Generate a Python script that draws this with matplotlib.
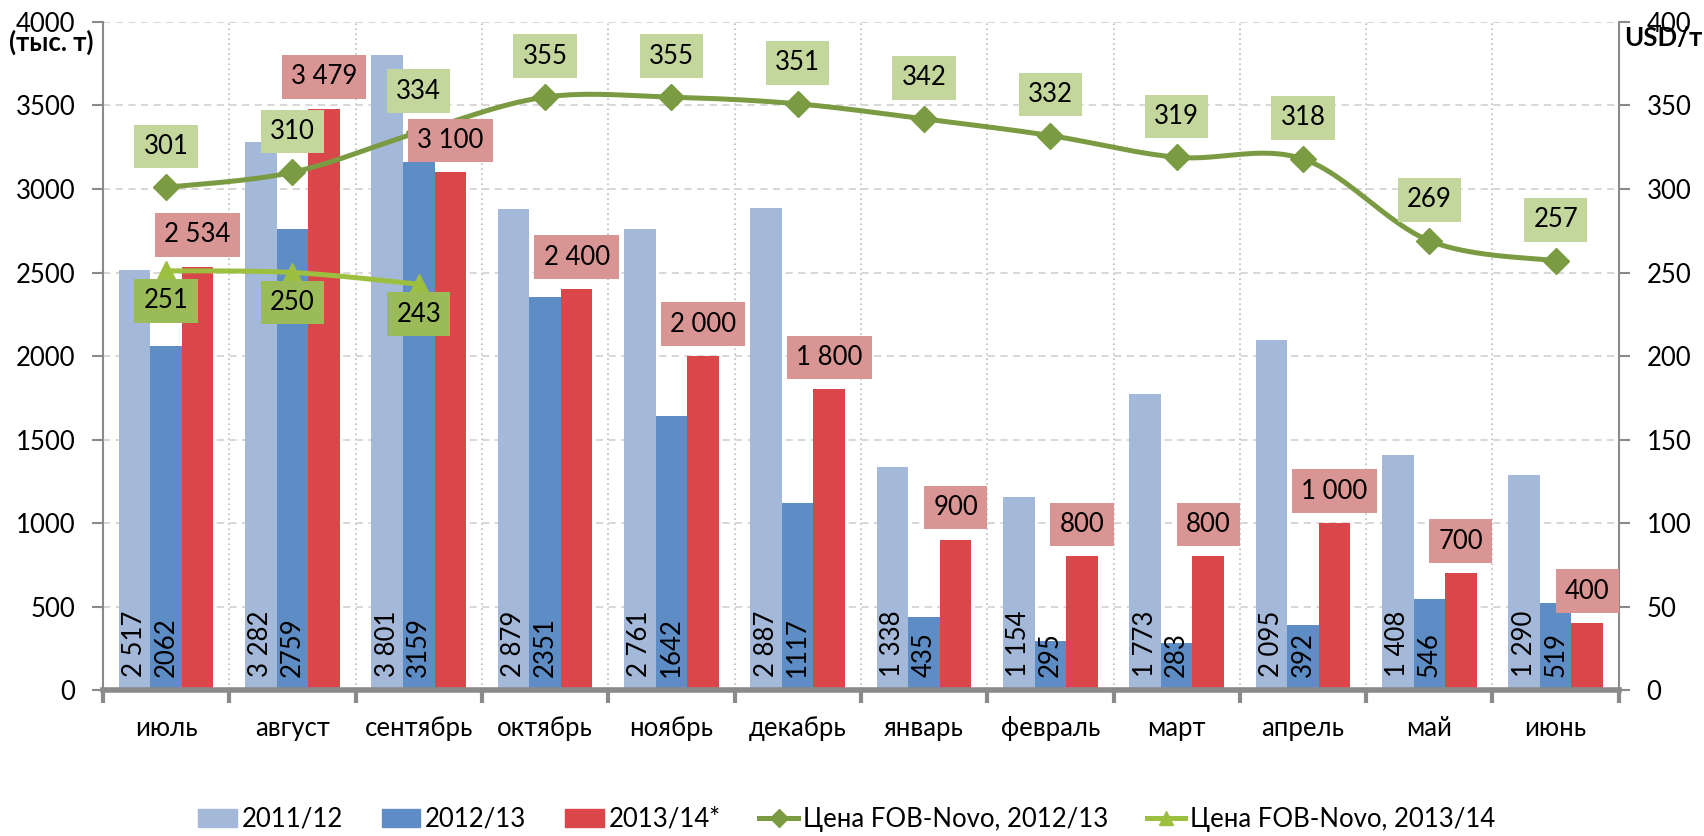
import numpy as np
import matplotlib
matplotlib.use('Agg')
import matplotlib.pyplot as plt
from matplotlib.lines import Line2D
from matplotlib.patches import Patch

plt.rcParams['font.family'] = ['Lato', 'DejaVu Sans']

# ── data ─────────────────────────────────────────────────────────────────────
months = ['июль', 'август', 'сентябрь', 'октябрь', 'ноябрь', 'декабрь',
          'январь', 'февраль', 'март', 'апрель', 'май', 'июнь']
exp_1112 = [2517, 3282, 3801, 2879, 2761, 2887, 1338, 1154, 1773, 2095, 1408, 1290]
exp_1213 = [2062, 2759, 3159, 2351, 1642, 1117, 435, 295, 283, 392, 546, 519]
exp_1314 = [2534, 3479, 3100, 2400, 2000, 1800, 900, 800, 800, 1000, 700, 400]
price_1213 = [301, 310, 334, 355, 355, 351, 342, 332, 319, 318, 269, 257]
price_1314 = [251, 250, 243]

# ── style ────────────────────────────────────────────────────────────────────
C_LIGHT = '#a4b9da'
C_BLUE = '#5e8cc5'
C_RED = '#d9474a'
C_PINK = '#d99594'
C_LINE1 = '#7b9b42'
C_BOX1 = '#c3d69b'
C_LINE2 = '#9dbf3f'
C_BOX2 = '#9bbb59'
AXC = '#8a8a8a'
GRID = '#d4d4d4'
FS = 18.5


def fmt_sp(v):
    return f"{v:,}".replace(",", " ")


def bezier_smooth(xs, ys, steps=40):
    # Excel-style smoothed line, only for drawing the curve between points
    p = np.column_stack([xs, ys]).astype(float)
    ext = np.vstack([p[0], p, p[-1]])
    t = np.linspace(0, 1, steps)[1:, None]
    out = [p[:1]]
    for i in range(len(p) - 1):
        p0, p1, p2, p3 = ext[i], ext[i + 1], ext[i + 2], ext[i + 3]
        c1 = p1 + (p2 - p0) / 6
        c2 = p2 - (p3 - p1) / 6
        out.append((1 - t) ** 3 * p1 + 3 * (1 - t) ** 2 * t * c1
                   + 3 * (1 - t) * t ** 2 * c2 + t ** 3 * p2)
    pts = np.vstack(out)
    return pts[:, 0], pts[:, 1]


fig = plt.figure(figsize=(17.04, 8.36), dpi=100)
ax = fig.add_axes([0.0604, 0.1746, 0.8896, 0.7991])
ax2 = ax.twinx()

x = np.arange(len(months))
w = 0.25

ax.bar(x - w, exp_1112, w, color=C_LIGHT, zorder=2)
ax.bar(x, exp_1213, w, color=C_BLUE, zorder=2)
ax.bar(x + w, exp_1314, w, color=C_RED, zorder=2)

# rotated labels inside bars
for i in x:
    ax.annotate(fmt_sp(exp_1112[i]), (x[i] - w, 0), xytext=(0, 13),
                textcoords='offset pixels', rotation=90, ha='center', va='bottom',
                fontsize=FS, zorder=4)
    ax.annotate(str(exp_1213[i]), (x[i], 0), xytext=(0, 13),
                textcoords='offset pixels', rotation=90, ha='center', va='bottom',
                fontsize=FS, zorder=4)

ax.set_xlim(-0.5, len(months) - 0.5)
ax.set_ylim(0, 4000)
ax.set_yticks(np.arange(0, 4001, 500))
ax.set_xticks(np.arange(-0.5, len(months), 1.0))
ax.set_xticklabels([])
ax.set_xticks(x, minor=True)
ax.set_xticklabels(months, minor=True, fontsize=FS)
ax.tick_params(axis='x', which='major', length=9, width=3, color=AXC)
ax.tick_params(axis='x', which='minor', length=0, pad=19)
ax.tick_params(axis='y', length=8, width=1.5, color=AXC, labelsize=FS, pad=12)
ax.yaxis.grid(True, color=GRID, linestyle=(0, (4, 3)), linewidth=1.3, zorder=0)
ax.xaxis.grid(True, which='major', color='#bdbdbd', linestyle=(0, (1, 2)),
              linewidth=1.2, zorder=0)
ax.set_axisbelow(True)
for s in ['top', 'right']:
    ax.spines[s].set_visible(False)
ax.spines['left'].set_color(AXC)
ax.spines['left'].set_linewidth(1.5)
ax.spines['bottom'].set_color(AXC)
ax.spines['bottom'].set_linewidth(4)

# price lines on right axis
sx, sy = bezier_smooth(x, price_1213)
ax2.plot(sx, sy, color=C_LINE1, linewidth=3.6, solid_capstyle='round', zorder=3)
ax2.plot(x, price_1213, linestyle='none', marker='D', markersize=13,
         color=C_LINE1, zorder=3)
x2 = x[:len(price_1314)]
sx2, sy2 = bezier_smooth(x2, price_1314)
ax2.plot(sx2, sy2, color=C_LINE2, linewidth=3.6, zorder=3)
ax2.plot(x2, price_1314, linestyle='none', marker='^', markersize=14,
         color=C_LINE2, zorder=3)

ax2.set_ylim(0, 400)
ax2.set_yticks(np.arange(0, 401, 50))
ax2.tick_params(axis='y', length=8, width=1.5, color=AXC, labelsize=FS, pad=12)
for s in ['top', 'left', 'bottom']:
    ax2.spines[s].set_visible(False)
ax2.spines['right'].set_color(AXC)
ax2.spines['right'].set_linewidth(1.5)

# boxed labels (drawn on top axes so they cover the lines)
box_pad = 'square,pad=0.36'
for i in x:
    ax2.annotate(fmt_sp(exp_1314[i]), (x[i] + w, exp_1314[i]), xycoords=ax.transData,
                 xytext=(0, 32), textcoords='offset pixels', ha='center', va='center',
                 fontsize=FS, zorder=6,
                 bbox=dict(boxstyle=box_pad, fc=C_PINK, ec='none'))
    ax2.annotate(str(price_1213[i]), (x[i], price_1213[i]),
                 xytext=(0, 41), textcoords='offset pixels', ha='center', va='center',
                 fontsize=FS, zorder=6,
                 bbox=dict(boxstyle=box_pad, fc=C_BOX1, ec='none'))
for i in x2:
    ax2.annotate(str(price_1314[i]), (x2[i], price_1314[i]),
                 xytext=(0, -30), textcoords='offset pixels', ha='center', va='center',
                 fontsize=FS, zorder=6,
                 bbox=dict(boxstyle=box_pad, fc=C_BOX2, ec='none'))

fig.text(0.005, 0.949, '(тыс. т)', fontsize=FS, fontweight='bold', ha='left', va='center')
fig.text(0.999, 0.955, 'USD/т', fontsize=FS, fontweight='bold', ha='right', va='center')

handles = [Patch(color=C_LIGHT), Patch(color=C_BLUE), Patch(color=C_RED),
           Line2D([], [], color=C_LINE1, lw=3.6, marker='D', markersize=9),
           Line2D([], [], color=C_LINE2, lw=3.6, marker='^', markersize=10)]
labels = ['2011/12', '2012/13', '2013/14*', 'Цена FOB-Novo, 2012/13',
          'Цена FOB-Novo, 2013/14']
fig.legend(handles, labels, loc='center', bbox_to_anchor=(0.497, 0.02), ncol=5,
           frameon=False, fontsize=FS, handlelength=1.5, handletextpad=0.2,
           columnspacing=1.5)

fig.savefig('out.png', dpi=100, facecolor='white')
